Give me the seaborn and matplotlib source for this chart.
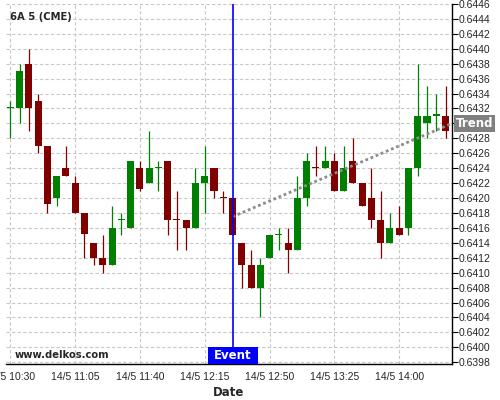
import numpy as np
import pandas as pd
import matplotlib
matplotlib.use("Agg")
import matplotlib.pyplot as plt
import matplotlib.transforms as mtransforms
from matplotlib.patches import Rectangle
import seaborn as sns

# 5 minute candles, 14/5 10:30 -> 14:25
opens = [0.64320, 0.64320, 0.64380, 0.64330, 0.64270, 0.64200, 0.64240, 0.64220,
         0.64180, 0.64140, 0.64120, 0.64110, 0.64170, 0.64160, 0.64240, 0.64220,
         0.64240, 0.64250, 0.64171, 0.64170, 0.64160, 0.64220, 0.64240, 0.64201,
         0.64200, 0.64140, 0.64110, 0.64080, 0.64120, 0.64150, 0.64140, 0.64130,
         0.64200, 0.64241, 0.64240, 0.64250, 0.64210, 0.64250, 0.64220, 0.64200,
         0.64170, 0.64140, 0.64160, 0.64160, 0.64240, 0.64300, 0.64310, 0.64310]
highs = [0.64330, 0.64380, 0.64400, 0.64340, 0.64270, 0.64230, 0.64270, 0.64230,
         0.64180, 0.64140, 0.64150, 0.64190, 0.64180, 0.64250, 0.64250, 0.64290,
         0.64250, 0.64250, 0.64210, 0.64170, 0.64240, 0.64270, 0.64240, 0.64210,
         0.64200, 0.64140, 0.64130, 0.64120, 0.64150, 0.64160, 0.64160, 0.64230,
         0.64260, 0.64270, 0.64270, 0.64260, 0.64270, 0.64280, 0.64220, 0.64240,
         0.64210, 0.64180, 0.64190, 0.64240, 0.64380, 0.64350, 0.64340, 0.64350]
lows = [0.64280, 0.64300, 0.64290, 0.64260, 0.64180, 0.64190, 0.64230, 0.64180,
        0.64120, 0.64110, 0.64100, 0.64110, 0.64150, 0.64160, 0.64210, 0.64220,
        0.64210, 0.64150, 0.64130, 0.64130, 0.64160, 0.64180, 0.64200, 0.64180,
        0.64150, 0.64080, 0.64080, 0.64040, 0.64120, 0.64130, 0.64100, 0.64130,
        0.64190, 0.64230, 0.64240, 0.64210, 0.64210, 0.64220, 0.64190, 0.64160,
        0.64120, 0.64140, 0.64150, 0.64150, 0.64230, 0.64280, 0.64290, 0.64280]
closes = [0.64321, 0.64370, 0.64320, 0.64270, 0.64192, 0.64230, 0.64230, 0.64180,
          0.64152, 0.64120, 0.64110, 0.64160, 0.64171, 0.64250, 0.64212, 0.64240,
          0.64241, 0.64170, 0.64170, 0.64160, 0.64220, 0.64230, 0.64210, 0.64200,
          0.64150, 0.64110, 0.64080, 0.64110, 0.64150, 0.64151, 0.64130, 0.64200,
          0.64250, 0.64240, 0.64250, 0.64210, 0.64240, 0.64220, 0.64190, 0.64170,
          0.64140, 0.64160, 0.64150, 0.64240, 0.64310, 0.64310, 0.64311, 0.64290]

tick_labels = ["14/5 10:30", "14/5 11:05", "14/5 11:40", "14/5 12:15",
               "14/5 12:50", "14/5 13:25", "14/5 14:00"]
event_idx = 24
trend_x = [24, 47.7]
trend_y = [0.64175, 0.64300]

df = pd.DataFrame({"open": opens, "high": highs, "low": lows, "close": closes})
df["idx"] = np.arange(len(df))
df["up"] = df["close"] >= df["open"]
df["color"] = np.where(df["up"], "#008000", "#800000")

sns.set_style("white")
plt.rcParams['font.family'] = ['DejaVu Sans']

fig = plt.figure(figsize=(5, 4), dpi=100)
ax = fig.add_axes([6 / 500, 36 / 400, 446 / 500, 360 / 400])

# wicks + bodies
ax.vlines(df["idx"], df["low"], df["high"], colors=df["color"], lw=0.9, zorder=3)
body_bottom = df[["open", "close"]].min(axis=1)
body_h = (df["close"] - df["open"]).abs().clip(lower=0.00002)
ax.bar(df["idx"], body_h, bottom=body_bottom, width=0.76, color=df["color"],
       linewidth=0, zorder=4)

# trend line
sns.lineplot(x=trend_x, y=trend_y, ax=ax, color="#8c8c8c", lw=2,
             linestyle=(0, (1, 1)), zorder=5)

# event marker
ax.axvline(event_idx, color="#0000ff", lw=1.2, zorder=6)
blend = mtransforms.blended_transform_factory(ax.transData, ax.transAxes)
ax.add_patch(Rectangle((event_idx - 2.7, 0.0), 5.4, 0.048, transform=blend,
                       facecolor="#0000ff", edgecolor="none", zorder=7, clip_on=False))
ax.text(event_idx, 0.024, "Event", transform=blend, ha="center", va="center",
        color="white", fontweight="bold", fontsize=8.5, zorder=8)

blend_y = mtransforms.blended_transform_factory(ax.transAxes, ax.transData)
ax.text(1.009, trend_y[1], "Trend", transform=blend_y, ha="left", va="center",
        color="white", fontweight="bold", fontsize=8.5, clip_on=False, zorder=8,
        bbox=dict(boxstyle="square,pad=0.15", fc="#808080", ec="none"))

# axes
ax.set_xlim(-0.46, 47.7)
ax.set_ylim(0.639777, 0.644593)
ax.set_xticks(np.arange(0, 48, 7))
ax.set_xticklabels(tick_labels)
ax.set_xticks(np.arange(0, 47.8, 1.75), minor=True)
ax.set_yticks(np.arange(0.6398, 0.64461, 0.0002))
ax.yaxis.set_major_formatter(matplotlib.ticker.FormatStrFormatter("%.4f"))
ax.yaxis.tick_right()
ax.tick_params(axis="both", which="major", direction="out", length=4, width=0.8,
               labelsize=7.5, color="black", pad=2)
ax.tick_params(axis="x", which="minor", direction="out", length=2.5, width=0.6, color="#808080")
for lab in ax.get_xticklabels() + ax.get_yticklabels():
    lab.set_family("Liberation Sans")
ax.tick_params(axis="y", pad=1)

ax.grid(True, which="major", linestyle=(0, (3, 2)), color="#c8c8c8", lw=0.8)
ax.set_axisbelow(True)
for s in ["left", "top"]:
    ax.spines[s].set_visible(False)
for s in ["right", "bottom"]:
    ax.spines[s].set_color("black")
    ax.spines[s].set_linewidth(1.0)

ax.set_xlabel("Date", fontsize=8.5, fontweight="bold", labelpad=3)
ax.set_ylabel("")

fig.text(0.02, 0.95, "6A 5 (CME)", fontsize=7.2, fontweight="bold", va="baseline")
fig.text(0.03, 0.1058, "www.delkos.com", fontsize=7.2, fontweight="bold", va="baseline")

fig.savefig("out.png", dpi=100)
